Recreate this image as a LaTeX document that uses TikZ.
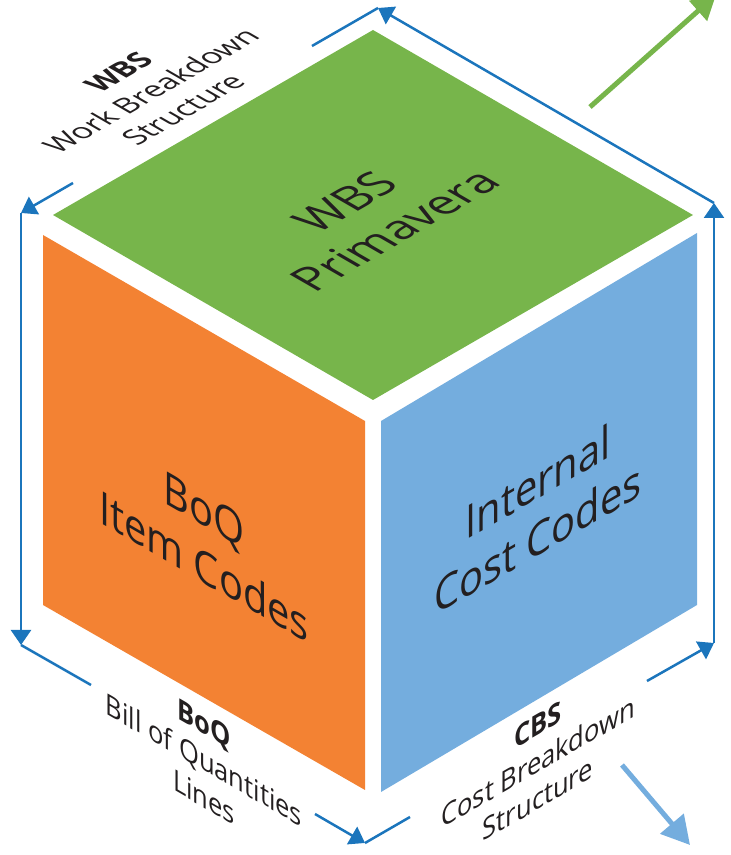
\documentclass[tikz,border=0pt]{standalone}
\usepackage{fontspec}
\setmainfont{Open Sans}
\usetikzlibrary{arrows.meta}

\definecolor{wbsgreen}{HTML}{77B54B}
\definecolor{boqorange}{HTML}{F38233}
\definecolor{cbsblue}{HTML}{74ADDE}
\definecolor{linkblue}{HTML}{1B75BC}
\definecolor{inkgray}{HTML}{231F20}

\begin{document}
\begin{tikzpicture}[x=1pt,y=1pt,
    topface/.style={cm={0.866,0.5,-0.866,0.5,(0,0)}},
    leftface/.style={cm={0.866,-0.5,0,1,(0,0)}},
    rightface/.style={cm={0.866,0.5,0,1,(0,0)}},
    bigtext/.style={align=center,text=inkgray,inner sep=0pt,font=\fontsize{46}{57}\selectfont},
    smalltext/.style={align=center,text=inkgray,inner sep=0pt,font=\fontsize{29.5}{37}\selectfont}]
\useasboundingbox (0,0) rectangle (731,855);
\clip (0,0) rectangle (731,855);

% cube faces
\fill[wbsgreen] (373,825) -- (693,640) -- (373,455) -- (53,640) -- cycle;
\fill[boqorange] (43,620) -- (365,434) -- (365,65) -- (43,250) -- cycle;
\fill[cbsblue] (381,434) -- (697,622) -- (697,250) -- (381,63) -- cycle;

\node[topface,bigtext] (wbsface) at (370,639) {WBS\\Primavera};
\node[leftface,bigtext] (boqface) at (204,317) {BoQ\\Item Codes};
\node[rightface,bigtext] (cbsface) at (538,345) {Internal\\Cost Codes};

% labels round the cube
\node[topface,smalltext] (wbslabel) at (151,764) {\textbf{WBS}\\Work Breakdown\\Structure};
\node[leftface,smalltext] (boqlabel) at (204,95) {\textbf{BoQ}\\Bill of Quantities\\Lines};
\node[rightface,smalltext] (cbslabel) at (538,93) {\textbf{CBS}\\Cost Breakdown\\Structure};

% corners of the frame
\coordinate (top) at (378,847);
\coordinate (lt) at (21,642);
\coordinate (lb) at (21,210);
\coordinate (bot) at (365,12);
\coordinate (rb) at (714,212);
\coordinate (rt) at (714,652);
\coordinate (wbsgapA) at (312,809);
\coordinate (wbsgapB) at (73,672);
\coordinate (boqgapA) at (91,170);
\coordinate (boqgapB) at (315,41);
\coordinate (cbsgapA) at (410,38);
\coordinate (cbsgapB) at (647,174);

\begin{scope}[>={Triangle[length=15pt,width=20pt]},
              every edge/.style={draw=linkblue,line width=2.5pt}]
    \path [-] (top) edge (wbsgapA);
    \path [->] (wbsgapB) edge (lt);
    \path [->] (lt) edge (lb);
    \path [-] (lb) edge (boqgapA);
    \path [->] (boqgapB) edge (bot);
    \path [-] (bot) edge (cbsgapA);
    \path [->] (cbsgapB) edge (rb);
    \path [->] (rb) edge (rt);
    \path [->] (rt) edge (top);
\end{scope}

% outgoing arrows
\coordinate (greenstart) at (590,748);
\coordinate (greenend) at (716,860);
\coordinate (bluestart) at (622,90);
\coordinate (blueend) at (690,10);
\draw[wbsgreen,line width=5pt,-{Triangle[length=24pt,width=26pt]}] (greenstart) -- (greenend);
\draw[cbsblue,line width=5pt,-{Triangle[length=28pt,width=30pt]}] (bluestart) -- (blueend);
\end{tikzpicture}
\end{document}
